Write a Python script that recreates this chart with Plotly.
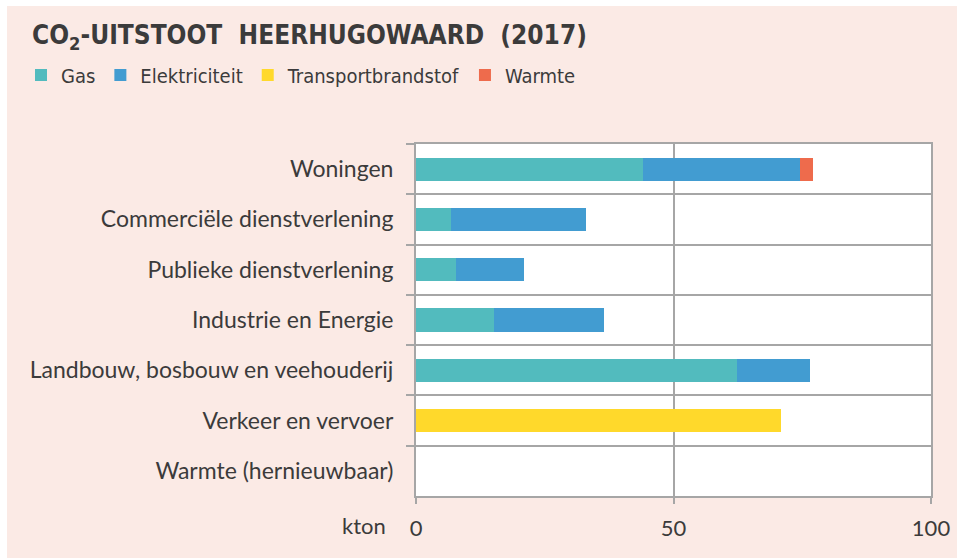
import plotly.graph_objects as go

categories = [
    "Woningen",
    "Commerciële dienstverlening",
    "Publieke dienstverlening",
    "Industrie en Energie",
    "Landbouw, bosbouw en veehouderij",
    "Verkeer en vervoer",
    "Warmte (hernieuwbaar)",
]
gas = [44.1, 6.8, 7.8, 15.2, 62.3, 0, 0]
elektriciteit = [30.5, 26.2, 13.2, 21.3, 14.2, 0, 0]
transportbrandstof = [0, 0, 0, 0, 0, 70.9, 0]
warmte = [2.5, 0, 0, 0, 0, 0, 0]
x_ticks = [0, 50, 100]

series = [
    ("Gas", gas, "#52BBBE"),
    ("Elektriciteit", elektriciteit, "#429CD1"),
    ("Transportbrandstof", transportbrandstof, "#FFD92B"),
    ("Warmte", warmte, "#EE6B4C"),
]

W, H = 957, 558
L, R, T, B = 416, 26, 144, 62
pw, ph = W - L - R, H - T - B

def px(xpix):
    return (xpix - L) / pw

def py(ypix):
    return (H - B - ypix) / ph

fig = go.Figure()
for name, vals, col in series:
    fig.add_trace(go.Bar(
        y=categories, x=vals, name=name, orientation="h",
        marker=dict(color=col, line=dict(width=0)),
        width=0.46,
    ))

txt = "#3B3B3B"
grid = "#A6A6A6"
peach = "#FBEAE5"
cond = "DejaVu Sans Condensed"
fig.update_layout(
    width=W, height=H,
    barmode="stack",
    paper_bgcolor=peach,
    plot_bgcolor="#FFFFFF",
    margin=dict(l=L, r=R, t=T, b=B, autoexpand=False),
    title=dict(
        text="CO<sub>2</sub>-UITSTOOT\u00a0\u00a0HEERHUGOWAARD\u00a0\u00a0(2017)",
        x=32 / W, xanchor="left", y=1 - 35 / H, yanchor="middle",
        font=dict(family=cond, size=26, color=txt, weight="bold"),
    ),
    legend=dict(
        orientation="h",
        x=px(21), xanchor="left", y=py(75), yanchor="middle",
        font=dict(family=cond, size=20, color=txt),
        bgcolor="rgba(0,0,0,0)", traceorder="normal",
    ),
    font=dict(family="Lato", color=txt),
    showlegend=True,
)
fig.update_yaxes(
    type="category", autorange="reversed", automargin=False,
    tickson="boundaries", ticks="outside", ticklen=8, tickcolor=grid, tickwidth=2,
    showgrid=True, gridcolor=grid, gridwidth=2,
    showline=True, linecolor=grid, linewidth=2, mirror=True,
    tickfont=dict(family="Lato", size=23, color=txt),
    ticklabelstandoff=16,
)
fig.update_xaxes(
    range=[0, 100], tickvals=x_ticks, ticktext=[str(v) for v in x_ticks],
    automargin=False,
    ticks="outside", ticklen=6, tickcolor=grid, tickwidth=2,
    showgrid=True, gridcolor=grid, gridwidth=2, zeroline=False,
    showline=True, linecolor=grid, linewidth=2, mirror=True,
    tickfont=dict(family="Lato", size=22, color=txt),
    ticklabelstandoff=6,
)
fig.add_annotation(
    text="kton", xref="paper", yref="paper", x=px(388), y=py(525),
    xanchor="right", yanchor="middle", showarrow=False,
    font=dict(family="Lato", size=22, color=txt),
)
# white outer band (top and left) of the original image
fig.add_shape(type="rect", xref="paper", yref="paper", x0=px(0), x1=px(W), y0=py(0), y1=py(6),
              fillcolor="#FFFFFF", line=dict(width=0), layer="below")
fig.add_shape(type="rect", xref="paper", yref="paper", x0=px(0), x1=px(7), y0=py(0), y1=py(H),
              fillcolor="#FFFFFF", line=dict(width=0), layer="below")

fig.write_html(
    "out.html",
    config={"displayModeBar": False},
    post_script=(
        "document.documentElement.style.overflow='hidden';"
        "document.documentElement.style.background='" + peach + "';"
        "document.body.style.margin='0px';"
        "document.body.style.background='" + peach + "';"
        "document.body.style.overflow='hidden';"
    ),
)
